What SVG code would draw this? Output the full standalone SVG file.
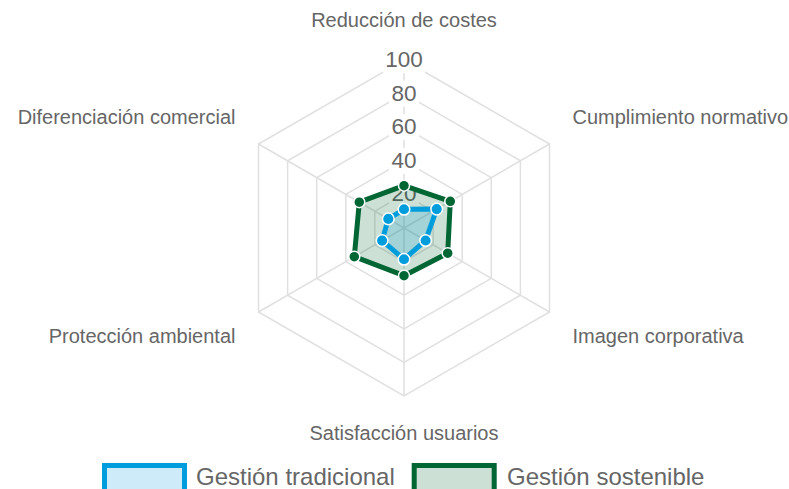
<svg xmlns="http://www.w3.org/2000/svg" width="789" height="489" viewBox="0 0 789 489">
<style>
.grid{fill:none;stroke:#e0e0e0;stroke-width:1.5}
.tick{font-family:"Liberation Sans",Arial,sans-serif;font-size:22.5px;fill:#666;text-anchor:middle}
.bd{fill:#fff}
.lbl{font-family:"Liberation Sans",Arial,sans-serif;font-size:20px;fill:#666}
.leg{font-family:"Liberation Sans",Arial,sans-serif;font-size:24px;fill:#666}
.blue{fill:rgba(0,157,220,0.2);stroke:#009ddc;stroke-width:5;stroke-linejoin:round}
.green{fill:rgba(0,102,51,0.2);stroke:#006633;stroke-width:5;stroke-linejoin:round}
.bpt{fill:#009ddc;stroke:#fff;stroke-width:1.5}
.gpt{fill:#006633;stroke:#fff;stroke-width:1.5}
</style>
<rect width="789" height="489" fill="#fff"/>
<g id="grid">
<polygon class="grid" points="404,60 549.49,144 549.49,312 404,396 258.51,312 258.51,144"/>
<polygon class="grid" points="404,93.6 520.39,160.8 520.39,295.2 404,362.4 287.61,295.2 287.61,160.8"/>
<polygon class="grid" points="404,127.2 491.29,177.6 491.29,278.4 404,328.8 316.71,278.4 316.71,177.6"/>
<polygon class="grid" points="404,160.8 462.2,194.4 462.2,261.6 404,295.2 345.8,261.6 345.8,194.4"/>
<polygon class="grid" points="404,194.4 433.1,211.2 433.1,244.8 404,261.6 374.9,244.8 374.9,211.2"/>
<path class="grid" d="M404,228L404,60M404,228L549.49,144M404,228L549.49,312M404,228L404,396M404,228L258.51,312M404,228L258.51,144"/>
</g>
<g id="ticks">
<rect class="bd" x="383" y="47" width="42" height="26"/>
<text class="tick" x="404" y="67">100</text>
<rect class="bd" x="389" y="80.6" width="30" height="26"/>
<text class="tick" x="404" y="100.6">80</text>
<rect class="bd" x="389" y="114.2" width="30" height="26"/>
<text class="tick" x="404" y="134.2">60</text>
<rect class="bd" x="389" y="147.8" width="30" height="26"/>
<text class="tick" x="404" y="167.8">40</text>
<rect class="bd" x="389" y="181.4" width="30" height="26"/>
<text class="tick" x="404" y="201.4">20</text>
</g>
<g id="labels">
<text class="lbl" x="404" y="27" text-anchor="middle">Reducción de costes</text>
<text class="lbl" x="572.5" y="124">Cumplimiento normativo</text>
<text class="lbl" x="572.5" y="343">Imagen corporativa</text>
<text class="lbl" x="404" y="440" text-anchor="middle">Satisfacción usuarios</text>
<text class="lbl" x="235.5" y="343" text-anchor="end">Protección ambiental</text>
<text class="lbl" x="235.5" y="124" text-anchor="end">Diferenciación comercial</text>
</g>
<g id="connectors">
<g id="series-sostenible">
<polygon class="green" points="404,185.7 450.3,201.3 447.7,253.2 404,275.7 354.3,256.7 359.3,202.2"/>
<circle class="gpt" cx="404" cy="185.7" r="5.5"/>
<circle class="gpt" cx="450.3" cy="201.3" r="5.5"/>
<circle class="gpt" cx="447.7" cy="253.2" r="5.5"/>
<circle class="gpt" cx="404" cy="275.7" r="5.5"/>
<circle class="gpt" cx="354.3" cy="256.7" r="5.5"/>
<circle class="gpt" cx="359.3" cy="202.2" r="5.5"/>
</g>
<g id="series-tradicional">
<polygon class="blue" points="404,209.3 436.7,209.1 425.6,240.5 404,259.3 382.1,240.6 388.3,218.9"/>
<circle class="bpt" cx="404" cy="209.3" r="5.8"/>
<circle class="bpt" cx="436.7" cy="209.1" r="5.8"/>
<circle class="bpt" cx="425.6" cy="240.5" r="5.8"/>
<circle class="bpt" cx="404" cy="259.3" r="5.8"/>
<circle class="bpt" cx="382.1" cy="240.6" r="5.8"/>
<circle class="bpt" cx="388.3" cy="218.9" r="5.8"/>
</g>
</g>
<g id="legend">
<rect x="104.5" y="465.5" width="80" height="30" fill="#cdebf8" stroke="#009ddc" stroke-width="5"/>
<text class="leg" x="196" y="485">Gestión tradicional</text>
<rect x="414.2" y="465.5" width="80" height="30" fill="#cce0d6" stroke="#006633" stroke-width="5"/>
<text class="leg" x="507" y="485">Gestión sostenible</text>
</g>
</svg>
